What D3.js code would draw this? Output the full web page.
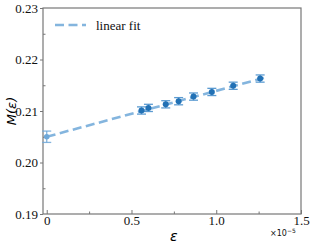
<!DOCTYPE html>
<html><head><meta charset="utf-8">
<script src="https://cdn.jsdelivr.net/npm/d3@7"></script>
<style>body{margin:0;background:#fff}svg{display:block}</style>
</head><body>
<script>
const epsX = [0.559, 0.600, 0.702, 0.778, 0.866, 0.974, 1.100, 1.259];
const mY   = [0.2101, 0.2106, 0.2113, 0.2119, 0.2128, 0.2137, 0.2149, 0.2163];
const mErr = [0.0007, 0.0007, 0.0007, 0.0007, 0.0007, 0.0007, 0.0007, 0.0007];
const extrapX = [0];
const extrapY = [0.2050];
const extrapErr = [0.0011];
const fitX = [0, 1.29];
const fitY = [0.2050, 0.2165];
const xTicks = [0, 0.5, 1.0, 1.5];
const xTickLabels = ["0", "0.5", "1.0", "1.5"];
const xMinor = [0.25, 0.75, 1.25];
const yTicks = [0.19, 0.20, 0.21, 0.22, 0.23];
const yTickLabels = ["0.19", "0.20", "0.21", "0.22", "0.23"];
const yMinor = [0.195, 0.205, 0.215, 0.225];

const W = 314, H = 246;
const m = {l: 43, r: 13, t: 8, b: 32};
const svg = d3.select("body").append("svg").attr("width", W).attr("height", H);
const x = d3.scaleLinear().domain([-0.022, 1.5]).range([m.l, W - m.r]);
const y = d3.scaleLinear().domain([0.19, 0.23]).range([H - m.b, m.t]);
const axisCol = "#777";
const light = "#6fa8d8";
const dark = "#2271b5";

svg.append("rect").attr("x", m.l).attr("y", m.t)
  .attr("width", W - m.r - m.l).attr("height", H - m.b - m.t)
  .attr("fill", "none").attr("stroke", axisCol).attr("stroke-width", 1.2);

const xAx = svg.append("g").attr("transform", `translate(0,${H - m.b})`)
  .call(d3.axisBottom(x).tickValues(xTicks).tickFormat((d, i) => xTickLabels[i]).tickSize(-4).tickPadding(2));
const xAxm = svg.append("g").attr("transform", `translate(0,${H - m.b})`)
  .call(d3.axisBottom(x).tickValues(xMinor).tickFormat("").tickSize(-2.5));
const yAx = svg.append("g").attr("transform", `translate(${m.l},0)`)
  .call(d3.axisLeft(y).tickValues(yTicks).tickFormat((d, i) => yTickLabels[i]).tickSize(3).tickPadding(2));
const yAxm = svg.append("g").attr("transform", `translate(${m.l},0)`)
  .call(d3.axisLeft(y).tickValues(yMinor).tickFormat("").tickSize(-2.5));
[xAx, xAxm, yAx, yAxm].forEach(g => {
  g.select(".domain").remove();
  g.selectAll("line").attr("stroke", axisCol);
  g.selectAll("text").attr("fill", "#111")
    .style("font-family", "'Liberation Serif', 'DejaVu Serif', serif").style("font-size", "13px");
});

svg.append("path").datum(fitX.map((d, i) => [d, fitY[i]]))
  .attr("d", d3.line().x(d => x(d[0])).y(d => y(d[1])))
  .attr("fill", "none").attr("stroke", light).attr("stroke-opacity", 0.85)
  .attr("stroke-width", 2.6).attr("stroke-dasharray", "9,4.5");

function errbars(xs, ys, es, col, capW, op) {
  const g = svg.append("g").attr("stroke", col).attr("stroke-width", 1.3).attr("stroke-opacity", op);
  xs.forEach((d, i) => {
    const cx = x(d), y0 = y(ys[i] - es[i]), y1 = y(ys[i] + es[i]);
    g.append("line").attr("x1", cx).attr("x2", cx).attr("y1", y0).attr("y2", y1);
    g.append("line").attr("x1", cx - capW).attr("x2", cx + capW).attr("y1", y0).attr("y2", y0);
    g.append("line").attr("x1", cx - capW).attr("x2", cx + capW).attr("y1", y1).attr("y2", y1);
  });
}
errbars(extrapX, extrapY, extrapErr, light, 4.5, 0.85);
svg.append("g").selectAll("circle").data(extrapX).join("circle")
  .attr("cx", d => x(d)).attr("cy", (d, i) => y(extrapY[i])).attr("r", 2.8)
  .attr("fill", light);

errbars(epsX, mY, mErr, "#4a90cc", 4.5, 0.9);
svg.append("g").selectAll("circle").data(epsX).join("circle")
  .attr("cx", d => x(d)).attr("cy", (d, i) => y(mY[i])).attr("r", 3)
  .attr("fill", dark);

svg.append("line").attr("x1", 55).attr("x2", 86).attr("y1", 25).attr("y2", 25)
  .attr("stroke", light).attr("stroke-opacity", 0.85).attr("stroke-width", 2.6).attr("stroke-dasharray", "9,4.5");
svg.append("text").attr("x", 96).attr("y", 29.5).text("linear fit")
  .style("font-family", "'Liberation Serif', serif").style("font-size", "13px").attr("fill", "#111");

svg.append("text").attr("transform", `translate(16,${(m.t + H - m.b) / 2}) rotate(-90)`)
  .attr("text-anchor", "middle").text("M(ε)")
  .style("font-family", "'DejaVu Sans', sans-serif").style("font-style", "italic").style("font-size", "13px");
svg.append("text").attr("x", x(0.75)).attr("y", 241).attr("text-anchor", "middle").text("ε")
  .style("font-family", "'DejaVu Sans', sans-serif").style("font-style", "italic").style("font-size", "14px");
const sci = svg.append("text").attr("x", 270).attr("y", 236)
  .style("font-family", "'DejaVu Sans', sans-serif").style("font-size", "8px").attr("fill", "#111");
sci.append("tspan").text("×10");
sci.append("tspan").attr("dy", -3).style("font-size", "6px").text("−5");
</script>
</body></html>
